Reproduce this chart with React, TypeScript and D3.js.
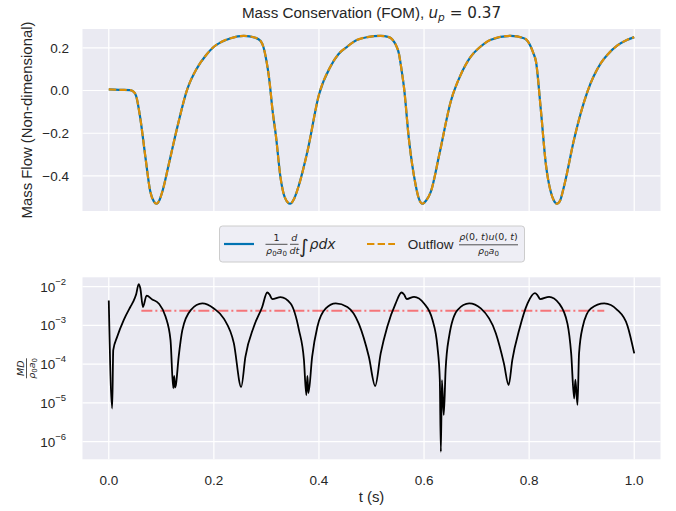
import React from "react";
import * as d3 from "d3";

// Time samples (s) and non-dimensional mass flow for the FOM run
const flowTimes = [
  0.0, 0.02, 0.04, 0.047, 0.052, 0.06, 0.07, 0.079, 0.086, 0.091, 0.097, 0.102, 0.114, 0.13, 0.149,
  0.168, 0.185, 0.2, 0.215, 0.232, 0.257, 0.279, 0.289, 0.294, 0.3, 0.305, 0.312, 0.318, 0.327,
  0.335, 0.345, 0.353, 0.362, 0.378, 0.4, 0.422, 0.437, 0.454, 0.472, 0.492, 0.5175, 0.533, 0.54,
  0.547, 0.552, 0.557, 0.562, 0.571, 0.584, 0.59, 0.597, 0.604, 0.613, 0.629, 0.651, 0.67, 0.689,
  0.705, 0.727, 0.765, 0.79, 0.797, 0.803, 0.808, 0.813, 0.822, 0.832, 0.841, 0.847, 0.853, 0.859,
  0.867, 0.886, 0.911, 0.9365, 0.95, 0.968, 0.985, 1.0,
];
// d/dt of the integrated density (blue) — the outflow series (orange) coincides with it
const storageRate = [
  0.005, 0.003, 0.002, -0.005, -0.025, -0.13, -0.317, -0.473, -0.52, -0.53, -0.51, -0.473, -0.348,
  -0.176, 0.003, 0.105, 0.165, 0.205, 0.228, 0.245, 0.256, 0.247, 0.232, 0.206, 0.14, 0.06, -0.1,
  -0.21, -0.41, -0.5, -0.53, -0.505, -0.442, -0.286, -0.02, 0.1125, 0.17, 0.206, 0.236, 0.25, 0.256,
  0.25, 0.238, 0.21, 0.175, 0.1, 0.011, -0.223, -0.442, -0.505, -0.53, -0.515, -0.473, -0.3, -0.05,
  0.075, 0.159, 0.2, 0.238, 0.256, 0.245, 0.232, 0.206, 0.175, 0.136, -0.083, -0.348, -0.473, -0.515,
  -0.53, -0.515, -0.442, -0.223, -0.005, 0.128, 0.17, 0.211, 0.235, 0.25,
];
const outflowRate = storageRate;

// Mass discrepancy |MD| / (rho0 a0)
const mdTimes = [
  0.0, 0.0065, 0.0085, 0.016, 0.0286, 0.041, 0.0465, 0.052, 0.057, 0.06, 0.065, 0.072, 0.0827,
  0.095, 0.108, 0.1175, 0.1227, 0.1245, 0.126, 0.1275, 0.133, 0.14, 0.156, 0.178, 0.2, 0.219,
  0.238, 0.252, 0.26, 0.276, 0.292, 0.3015, 0.306, 0.311, 0.327, 0.346, 0.362, 0.3714, 0.376,
  0.378, 0.38, 0.387, 0.397, 0.413, 0.432, 0.454, 0.476, 0.495, 0.507, 0.5175, 0.53, 0.546,
  0.557, 0.562, 0.567, 0.581, 0.6, 0.616, 0.6255, 0.63, 0.632, 0.634, 0.6375, 0.641, 0.6476,
  0.6636, 0.686, 0.708, 0.7366, 0.752, 0.761, 0.768, 0.781, 0.797, 0.811, 0.816, 0.821, 0.838,
  0.857, 0.873, 0.88, 0.8857, 0.888, 0.892, 0.895, 0.902, 0.9175, 0.943, 0.968, 0.987, 1.0,
];
const mdValues = [
  4.4e-3, 7.2e-6, 2.3e-4, 5.1e-4, 1.4e-3, 3.0e-3, 4.1e-3, 6.3e-3, 1.17e-2, 9.1e-3, 3.0e-3, 5.9e-3,
  4.7e-3, 3.7e-3, 1.7e-3, 4.2e-4, 2.4e-5, 5.0e-5, 2.5e-5, 2.8e-5, 1.55e-4, 7.6e-4, 2.5e-3, 3.7e-3,
  2.75e-3, 1.5e-3, 3.5e-4, 2.6e-5, 1.55e-4, 9.3e-4, 3.0e-3, 7.1e-3, 6.3e-3, 4.8e-3, 5.4e-3, 3.7e-3,
  7.6e-4, 1.3e-4, 1.6e-5, 5.0e-5, 1.8e-5, 1.55e-4, 9.3e-4, 2.75e-3, 3.7e-3, 3.0e-3, 1.1e-3, 1.55e-4,
  2.75e-5, 1.9e-4, 9.3e-4, 3.7e-3, 7.1e-3, 6.3e-3, 4.8e-3, 5.5e-3, 3.7e-3, 1.4e-3, 2.8e-4, 4.0e-5,
  5.5e-7, 3.9e-5, 4.9e-6, 7.1e-5, 5.1e-4, 2.5e-3, 3.7e-3, 2.75e-3, 6.3e-4, 1.05e-4, 2.9e-5, 1.3e-4,
  7.6e-4, 3.7e-3, 6.8e-3, 6.0e-3, 4.8e-3, 5.5e-3, 3.7e-3, 1.1e-3, 1.9e-4, 1.3e-5, 4.0e-5, 8.9e-6,
  1.9e-4, 9.3e-4, 2.75e-3, 3.7e-3, 2.5e-3, 1.0e-3, 1.9e-4,
];
// Mean discrepancy level over the periodic window
const mdMeanSpan = [0.062, 0.943];
const mdMean = 2.4e-3;

const xTicks = [0.0, 0.2, 0.4, 0.6, 0.8, 1.0];
const flowTicks = [0.2, 0.0, -0.2, -0.4];
const mdTickExponents = [-2, -3, -4, -5, -6];

const W = 676;
const H = 511;
const BG = "#eaeaf2";
const TEXT = "#262626";
const SANS = "'Liberation Sans', Arial, sans-serif";
const MATH = "'DejaVu Sans', sans-serif";
const BLUE = "#0173b2";
const ORANGE = "#de8f05";

const x = d3.scaleLinear().domain([-0.05, 1.05]).range([82.5, 660.5]);
const yTop = d3.scaleLinear().domain([-0.564, 0.288]).range([211, 29]);
const yBot = d3.scaleLog().domain([Math.pow(10, -6.454), Math.pow(10, -1.757)]).range([459.3, 277.3]);

const fmtMinus = (v: number) => d3.format(".1f")(v).replace("-", "\u2212");

export default function App() {
  const flowPts = flowTimes.map((t, i) => [t, storageRate[i]] as [number, number]);
  const outPts = flowTimes.map((t, i) => [t, outflowRate[i]] as [number, number]);
  const mdPts = mdTimes.map((t, i) => [t, mdValues[i]] as [number, number]);

  const topLine = d3
    .line<[number, number]>()
    .x((d) => x(d[0]))
    .y((d) => yTop(d[1]))
    .curve(d3.curveMonotoneX);
  const botLine = d3
    .line<[number, number]>()
    .x((d) => x(d[0]))
    .y((d) => yBot(d[1]))
    .curve(d3.curveMonotoneX);

  const [x0, x1] = x.range();
  const [tb, tt] = yTop.range();
  const [bb, bt] = yBot.range();

  return (
    <svg width={W} height={H} style={{ display: "block", position: "absolute", left: 0, top: 0 }}>
      <rect x={0} y={0} width={W} height={H} fill="#ffffff" />

      {/* Title */}
      <text x={(x0 + x1) / 2} y={18} textAnchor="middle" fontSize={15.2} fill={TEXT} fontFamily={SANS}>
        <tspan>Mass Conservation (FOM), </tspan>
        <tspan fontFamily={MATH} fontStyle="italic">u</tspan>
        <tspan fontFamily={MATH} fontStyle="italic" fontSize={10.6} dy={3}>p</tspan>
        <tspan fontFamily={MATH} dy={-3}> = 0.37</tspan>
      </text>

      {/* Upper axes: mass flow */}
      <rect x={x0} y={tt} width={x1 - x0} height={tb - tt} fill={BG} />
      <clipPath id="clipTop">
        <rect x={x0} y={tt} width={x1 - x0} height={tb - tt} />
      </clipPath>
      {xTicks.map((t) => (
        <line key={"tv" + t} x1={x(t)} x2={x(t)} y1={tt} y2={tb} stroke="#fff" strokeWidth={1.2} />
      ))}
      {flowTicks.map((v) => (
        <line key={"th" + v} x1={x0} x2={x1} y1={yTop(v)} y2={yTop(v)} stroke="#fff" strokeWidth={1.2} />
      ))}
      {flowTicks.map((v) => (
        <text key={"tl" + v} x={69} y={yTop(v)} dy="0.35em" textAnchor="end" fontSize={13.5} fill={TEXT} fontFamily={SANS}>
          {fmtMinus(v)}
        </text>
      ))}
      <g clipPath="url(#clipTop)">
        <path d={topLine(flowPts) || ""} fill="none" stroke={BLUE} strokeWidth={2.2} />
        <path d={topLine(outPts) || ""} fill="none" stroke={ORANGE} strokeWidth={2.2} strokeDasharray="7.4,3.2" />
      </g>
      <text
        transform={`translate(32,${(tt + tb) / 2}) rotate(-90)`}
        textAnchor="middle"
        fontSize={14.9}
        fill={TEXT}
        fontFamily={SANS}
      >
        Mass Flow (Non-dimensional)
      </text>

      {/* Legend */}
      <rect x={219.5} y={226} width={305} height={36} rx={3} fill="#eeeef5" stroke="#cccccc" strokeWidth={1} />
      <line x1={224} x2={254} y1={244} y2={244} stroke={BLUE} strokeWidth={2.2} />
      <g fontFamily={MATH} fill={TEXT}>
        <text x={276.5} y={240.5} textAnchor="middle" fontSize={9.5}>1</text>
        <line x1={265.5} x2={287.5} y1={244.3} y2={244.3} stroke={TEXT} strokeWidth={0.8} />
        <text x={276.5} y={253.5} textAnchor="middle" fontSize={9.5}>
          <tspan fontStyle="italic">ρ</tspan>
          <tspan fontSize={7} dy={2}>0</tspan>
          <tspan fontStyle="italic" dy={-2}>a</tspan>
          <tspan fontSize={7} dy={2}>0</tspan>
        </text>
        <text x={294.3} y={240.5} textAnchor="middle" fontSize={9.5} fontStyle="italic">d</text>
        <line x1={290} x2={298.6} y1={244.3} y2={244.3} stroke={TEXT} strokeWidth={0.8} />
        <text x={294.3} y={253.5} textAnchor="middle" fontSize={9.5} fontStyle="italic">dt</text>
        <text x={299} y={253} fontSize={19}>∫</text>
        <text x={309.5} y={249} fontSize={14} fontStyle="italic">ρdx</text>
      </g>
      <line x1={367} x2={395} y1={244} y2={244} stroke={ORANGE} strokeWidth={2.2} strokeDasharray="7.4,3.2" />
      <text x={407.7} y={249} fontSize={13.5} fill={TEXT} fontFamily={SANS}>Outflow</text>
      <g fontFamily={MATH} fill={TEXT}>
        <text x={488.5} y={240} textAnchor="middle" fontSize={9.5}>
          <tspan fontStyle="italic">ρ</tspan>
          <tspan>(0, </tspan>
          <tspan fontStyle="italic">t</tspan>
          <tspan>)</tspan>
          <tspan fontStyle="italic">u</tspan>
          <tspan>(0, </tspan>
          <tspan fontStyle="italic">t</tspan>
          <tspan>)</tspan>
        </text>
        <line x1={459} x2={518} y1={244.8} y2={244.8} stroke={TEXT} strokeWidth={0.8} />
        <text x={488.5} y={253.5} textAnchor="middle" fontSize={9.5}>
          <tspan fontStyle="italic">ρ</tspan>
          <tspan fontSize={7} dy={2}>0</tspan>
          <tspan fontStyle="italic" dy={-2}>a</tspan>
          <tspan fontSize={7} dy={2}>0</tspan>
        </text>
      </g>

      {/* Lower axes: mass discrepancy, log scale */}
      <rect x={x0} y={bt} width={x1 - x0} height={bb - bt} fill={BG} />
      <clipPath id="clipBot">
        <rect x={x0} y={bt} width={x1 - x0} height={bb - bt} />
      </clipPath>
      {xTicks.map((t) => (
        <line key={"bv" + t} x1={x(t)} x2={x(t)} y1={bt} y2={bb} stroke="#fff" strokeWidth={1.2} />
      ))}
      {mdTickExponents.map((e) => (
        <line key={"bh" + e} x1={x0} x2={x1} y1={yBot(Math.pow(10, e))} y2={yBot(Math.pow(10, e))} stroke="#fff" strokeWidth={1.2} />
      ))}
      {mdTickExponents.map((e) => (
        <text key={"bl" + e} x={66} y={yBot(Math.pow(10, e)) + 5} textAnchor="end" fontSize={13.5} fill={TEXT} fontFamily={SANS}>
          <tspan>10</tspan>
          <tspan fontSize={9.5} dy={-7}>{"\u2212" + Math.abs(e)}</tspan>
        </text>
      ))}
      <g clipPath="url(#clipBot)">
        <path
          d={botLine(mdMeanSpan.map((t) => [t, mdMean] as [number, number])) || ""}
          fill="none"
          stroke="red"
          strokeOpacity={0.5}
          strokeWidth={2}
          strokeDasharray="11,3,2,3"
        />
        <path d={botLine(mdPts) || ""} fill="none" stroke="#000" strokeWidth={1.8} strokeLinejoin="round" />
      </g>
      {xTicks.map((t) => (
        <text key={"xl" + t} x={x(t)} y={485} textAnchor="middle" fontSize={13.5} fill={TEXT} fontFamily={SANS}>
          {d3.format(".1f")(t)}
        </text>
      ))}
      <text x={(x0 + x1) / 2} y={502} textAnchor="middle" fontSize={14.9} fill={TEXT} fontFamily={SANS}>
        t (s)
      </text>
      <g transform={`translate(27,${(bt + bb) / 2}) rotate(-90)`} fontFamily={MATH} fill={TEXT}>
        <text x={0} y={-3} textAnchor="middle" fontSize={9.5} fontStyle="italic">MD</text>
        <line x1={-10} x2={10} y1={-0.5} y2={-0.5} stroke={TEXT} strokeWidth={0.8} />
        <text x={0} y={8} textAnchor="middle" fontSize={9.5}>
          <tspan fontStyle="italic">ρ</tspan>
          <tspan fontSize={7} dy={2}>0</tspan>
          <tspan fontStyle="italic" dy={-2}>a</tspan>
          <tspan fontSize={7} dy={2}>0</tspan>
        </text>
      </g>
    </svg>
  );
}
